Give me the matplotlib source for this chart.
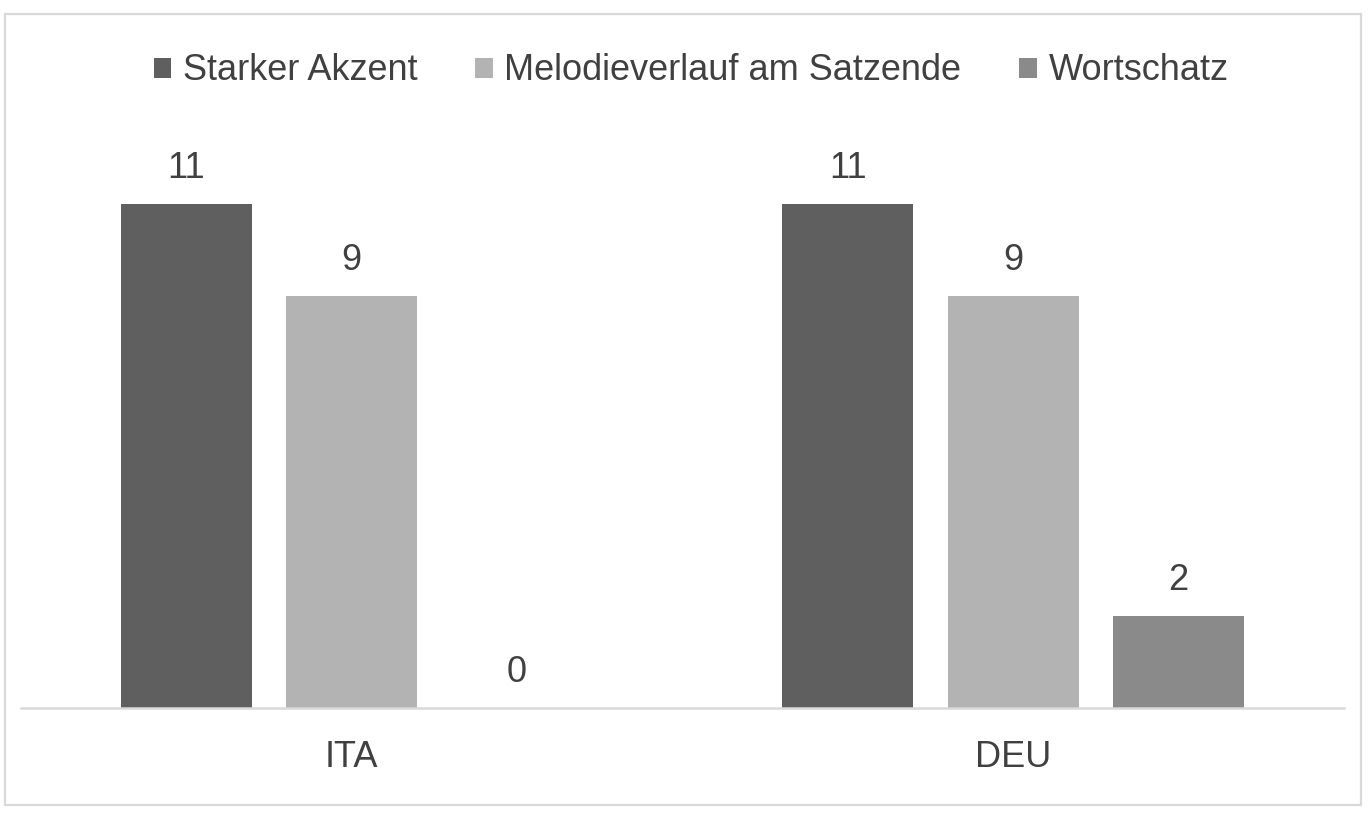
import matplotlib
matplotlib.use("Agg")
import matplotlib.pyplot as plt
import numpy as np
from matplotlib.patches import Rectangle

categories = ["ITA", "DEU"]
series_names = ["Starker Akzent", "Melodieverlauf am Satzende", "Wortschatz"]
values_akzent = [11, 11]
values_melodie = [9, 9]
values_wortschatz = [0, 2]

colors = ["#5f5f5f", "#b3b3b3", "#8a8a8a"]
text_color = "#404040"

plt.rcParams['font.family'] = ['Liberation Sans', 'DejaVu Sans']

W, H = 1370, 813
fig = plt.figure(figsize=(W / 100, H / 100), dpi=100)

# outer border
fig.patches.append(Rectangle((5 / W, 1 - 805 / H), (1361 - 5) / W, (805 - 14) / H,
                             transform=fig.transFigure, fill=False,
                             edgecolor="#d9d9d9", linewidth=1.6))

ax_left, ax_right = 21 / W, 1344 / W
ax_bottom = 1 - 708 / H
ax_top = 1 - 130 / H
ax = fig.add_axes([ax_left, ax_bottom, ax_right - ax_left, ax_top - ax_bottom])

px_per_unit = (708 - 204) / 11.0
ax.set_ylim(0, (708 - 130) / px_per_unit)
ax.set_xlim(-0.5, 1.5)

x = np.arange(len(categories))
width = 0.198
offsets = [-0.25, 0.0, 0.25]
all_values = [values_akzent, values_melodie, values_wortschatz]

for name, vals, off, c in zip(series_names, all_values, offsets, colors):
    bars = ax.bar(x + off, vals, width, color=c, label=name, zorder=2)
    for b, v in zip(bars, vals):
        ax.annotate(str(v), (b.get_x() + b.get_width() / 2, v),
                    xytext=(0, 13), textcoords="offset points",
                    ha="center", va="bottom", fontsize=26, color=text_color)

for s in ["top", "right", "left"]:
    ax.spines[s].set_visible(False)
ax.spines["bottom"].set_color("#d9d9d9")
ax.spines["bottom"].set_linewidth(1.8)
ax.spines["bottom"].set_zorder(3)
ax.set_yticks([])
ax.set_xticks(x)
ax.set_xticklabels(categories, fontsize=26, color=text_color)
ax.tick_params(axis="x", length=0, pad=23)

handles, labels = ax.get_legend_handles_labels()
leg = fig.legend(handles, labels, loc="center", bbox_to_anchor=(691 / W, 1 - 71 / H),
                 ncol=3, frameon=False, fontsize=26, handlelength=0.48, handleheight=0.48,
                 handletextpad=0.33, columnspacing=1.6, labelcolor=text_color)

fig.savefig("out.png", dpi=100)
